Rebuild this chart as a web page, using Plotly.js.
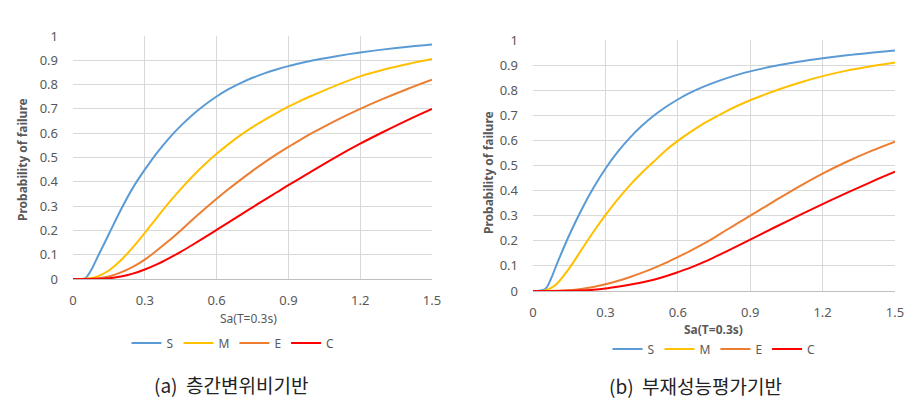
<!DOCTYPE html>
<html>
<head>
<meta charset="utf-8">
<script src="https://cdn.plot.ly/plotly-3.0.1.min.js"></script>
<style>
html,body{margin:0;padding:0;background:#fff;}
#chart{width:920px;height:403px;}
</style>
</head>
<body>
<div id="chart"></div>
<script>
// ---- data ----
const seriesNames = ["S", "M", "E", "C"];
const sa = [0,0.05,0.075,0.1,0.15,0.2,0.25,0.3,0.35,0.4,0.45,0.5,0.55,0.6,0.65,0.7,0.75,0.8,0.85,0.9,0.95,1.0,1.1,1.2,1.3,1.4,1.5];

// (a) 층간변위비기반
const aS = [0,0.003,0.035,0.085,0.185,0.285,0.375,0.45,0.518,0.578,0.63,0.676,0.716,0.751,0.781,0.806,0.828,0.846,0.862,0.876,0.888,0.899,0.917,0.932,0.945,0.956,0.965];
const aM = [0,0.001,0.004,0.01,0.035,0.077,0.13,0.19,0.252,0.313,0.37,0.423,0.471,0.515,0.555,0.592,0.625,0.655,0.683,0.709,0.733,0.755,0.797,0.834,0.862,0.885,0.905];
const aE = [0,0,0.001,0.002,0.01,0.027,0.05,0.08,0.117,0.157,0.2,0.245,0.288,0.33,0.37,0.408,0.445,0.48,0.513,0.544,0.573,0.601,0.653,0.70,0.743,0.783,0.82];
const aC = [0,0,0,0.001,0.003,0.01,0.022,0.039,0.06,0.085,0.112,0.141,0.171,0.202,0.233,0.264,0.295,0.326,0.356,0.386,0.415,0.445,0.503,0.557,0.607,0.655,0.70];

// (b) 부재성능평가기반
const bS = [0,0.008,0.05,0.11,0.222,0.322,0.41,0.487,0.553,0.609,0.657,0.698,0.733,0.763,0.789,0.811,0.83,0.847,0.862,0.875,0.886,0.896,0.913,0.927,0.939,0.949,0.958];
const bM = [0,0.002,0.012,0.03,0.09,0.163,0.235,0.302,0.364,0.42,0.47,0.515,0.56,0.598,0.632,0.663,0.69,0.716,0.739,0.76,0.779,0.797,0.829,0.856,0.878,0.895,0.91];
const bE = [0,0,0,0.001,0.003,0.008,0.016,0.027,0.04,0.055,0.072,0.091,0.112,0.135,0.159,0.185,0.212,0.242,0.271,0.3,0.329,0.358,0.415,0.468,0.515,0.557,0.595];
const bC = [0,0,0,0,0.001,0.002,0.005,0.01,0.017,0.025,0.034,0.045,0.059,0.075,0.092,0.112,0.134,0.157,0.181,0.205,0.229,0.253,0.30,0.346,0.391,0.434,0.475];

const xTickVals = [0,0.3,0.6,0.9,1.2,1.5];
const xTickText = ["0","0.3","0.6","0.9","1.2","1.5"];
const yTickVals = [0,0.1,0.2,0.3,0.4,0.5,0.6,0.7,0.8,0.9,1];
const yTickText = ["0","0.1","0.2","0.3","0.4","0.5","0.6","0.7","0.8","0.9","1"];

const xTitle = "Sa(T=0.3s)";
const yTitle = "Probability of failure";
const captionA = "(a)  층간변위비기반";
const captionB = "(b)  부재성능평가기반";

// ---- styling ----
const colors = ["#5b9bd5", "#ffc000", "#ed7d31", "#ff0000"];
const gray = "#595959";
const gridC = "#d9d9d9";
const W = 920, H = 403;

function mk(y, i, xa, ya, leg) {
  return {
    x: sa, y: y, type: "scatter", mode: "lines",
    name: seriesNames[i], xaxis: xa, yaxis: ya, legend: leg,
    line: {color: colors[i], width: 2, shape: "spline", smoothing: 1},
    hoverinfo: "x+y+name"
  };
}

const traces = [
  mk(aS,0,"x","y","legend"), mk(aM,1,"x","y","legend"), mk(aE,2,"x","y","legend"), mk(aC,3,"x","y","legend"),
  mk(bS,0,"x2","y2","legend2"), mk(bM,1,"x2","y2","legend2"), mk(bE,2,"x2","y2","legend2"), mk(bC,3,"x2","y2","legend2")
];

const tickFont = {family: "Noto Sans, DejaVu Sans, sans-serif", size: 13, color: gray};

function xax(d0, d1, anchor) {
  return {
    domain: [d0/W, d1/W], anchor: anchor, range: [0, 1.5],
    tickmode: "array", tickvals: xTickVals, ticktext: xTickText,
    showgrid: true, gridcolor: gridC, gridwidth: 1, zeroline: false,
    showline: true, linecolor: "#bfbfbf", linewidth: 1,
    ticks: "", ticklabelstandoff: 9, tickfont: tickFont, fixedrange: true
  };
}
function yax(top, bot, anchor) {
  return {
    domain: [(H-bot)/H, (H-top)/H], anchor: anchor, range: [0, 1],
    tickmode: "array", tickvals: yTickVals, ticktext: yTickText,
    showgrid: true, gridcolor: gridC, gridwidth: 1, zeroline: false,
    showline: false, ticks: "", ticklabelstandoff: 14, tickfont: tickFont, fixedrange: true
  };
}

function ann(text, x, y, font, angle) {
  return {text: text, x: x/W, y: (H-y)/H, xref: "paper", yref: "paper", showarrow: false,
          xanchor: "center", yanchor: "middle", textangle: angle || 0, font: font};
}
const base = "Noto Sans, DejaVu Sans, sans-serif";
const legFont = {family: base, size: 12, color: gray};
const layout = {
  width: W, height: H,
  margin: {l: 0, r: 0, t: 0, b: 0},
  paper_bgcolor: "#fff", plot_bgcolor: "#fff",
  showlegend: true,
  xaxis: xax(73, 432, "y"),
  yaxis: yax(36, 279, "x"),
  xaxis2: xax(533, 895, "y2"),
  yaxis2: yax(40, 291, "x2"),
  legend: {orientation: "h", x: 233/W, y: (H-343)/H, xanchor: "center", yanchor: "middle",
           font: legFont, bgcolor: "rgba(0,0,0,0)", itemwidth: 30},
  legend2: {orientation: "h", x: 714/W, y: (H-349)/H, xanchor: "center", yanchor: "middle",
           font: legFont, bgcolor: "rgba(0,0,0,0)", itemwidth: 30},
  annotations: [
    ann(yTitle, 22, 160, {family: base, size: 12, color: gray, weight: "bold"}, -90),
    ann(yTitle, 488, 173, {family: base, size: 12, color: gray, weight: "bold"}, -90),
    ann(xTitle, 248, 318, {family: base, size: 12, color: gray}),
    ann(xTitle, 713, 329, {family: base, size: 12, color: gray, weight: "bold"}),
    ann(captionA, 231, 384, {family: "Noto Sans CJK KR, sans-serif", size: 19, color: "#222"}),
    ann(captionB, 695, 385, {family: "Noto Sans CJK KR, sans-serif", size: 19, color: "#222"})
  ]
};

Plotly.newPlot("chart", traces, layout, {displayModeBar: false, staticPlot: true});
</script>
</body>
</html>
